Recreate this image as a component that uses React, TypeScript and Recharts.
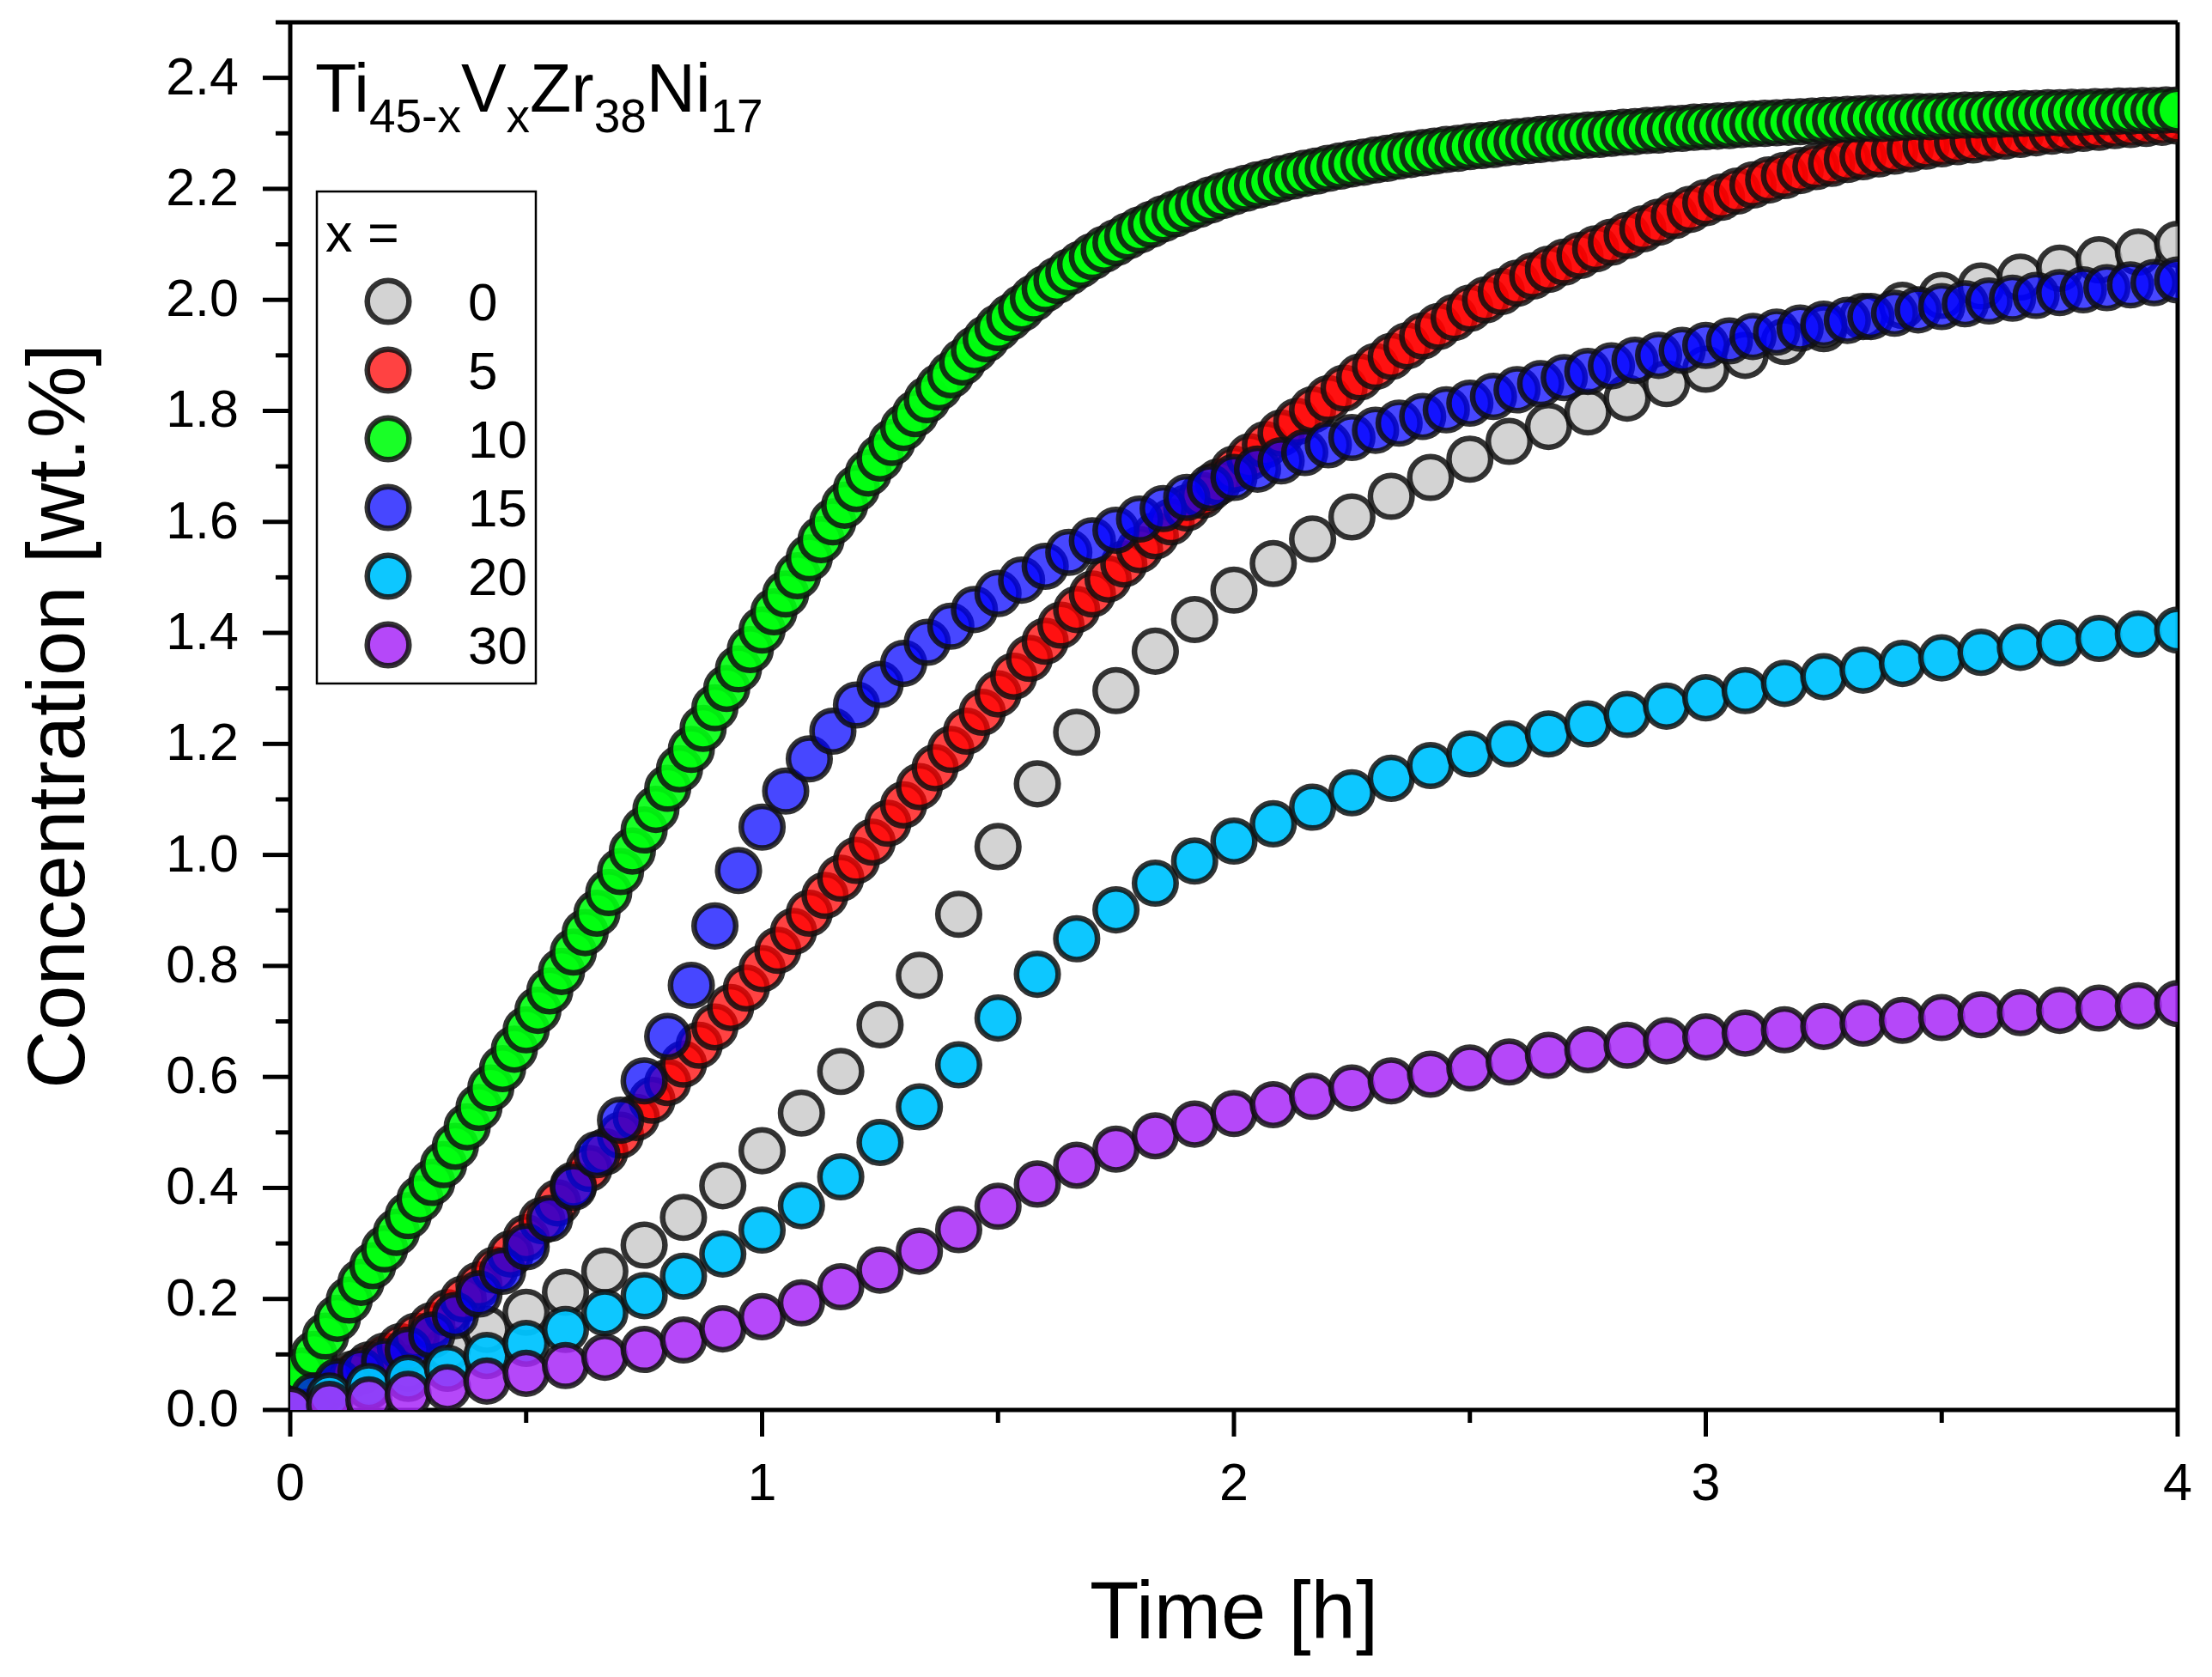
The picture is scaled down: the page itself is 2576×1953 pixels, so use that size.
import { ReferenceLine, Scatter, ScatterChart, XAxis, YAxis } from "recharts";

const FONT = "'Liberation Sans', Arial, sans-serif";
const W = 2576;
const H = 1953;

// sample times in minutes, one list per sampling rate
const T_GREEN_MIN = [
  0, 1.5, 3, 4.5, 6, 7.5, 9, 10.5, 12, 13.5,
  15, 16.5, 18, 19.5, 21, 22.5, 24, 25.5, 27, 28.5,
  30, 31.5, 33, 34.5, 36, 37.5, 39, 40.5, 42, 43.5,
  45, 46.5, 48, 49.5, 51, 52.5, 54, 55.5, 57, 58.5,
  60, 61.5, 63, 64.5, 66, 67.5, 69, 70.5, 72, 73.5,
  75, 76.5, 78, 79.5, 81, 82.5, 84, 85.5, 87, 88.5,
  90, 91.5, 93, 94.5, 96, 97.5, 99, 100.5, 102, 103.5,
  105, 106.5, 108, 109.5, 111, 112.5, 114, 115.5, 117, 118.5,
  120, 121.5, 123, 124.5, 126, 127.5, 129, 130.5, 132, 133.5,
  135, 136.5, 138, 139.5, 141, 142.5, 144, 145.5, 147, 148.5,
  150, 151.5, 153, 154.5, 156, 157.5, 159, 160.5, 162, 163.5,
  165, 166.5, 168, 169.5, 171, 172.5, 174, 175.5, 177, 178.5,
  180, 181.5, 183, 184.5, 186, 187.5, 189, 190.5, 192, 193.5,
  195, 196.5, 198, 199.5, 201, 202.5, 204, 205.5, 207, 208.5,
  210, 211.5, 213, 214.5, 216, 217.5, 219, 220.5, 222, 223.5,
  225, 226.5, 228, 229.5, 231, 232.5, 234, 235.5, 237, 238.5,
  240,
];

const T_RED_MIN = [
  0, 2, 4, 6, 8, 10, 12, 14, 16, 18,
  20, 22, 24, 26, 28, 30, 32, 34, 36, 38,
  40, 42, 44, 46, 48, 50, 52, 54, 56, 58,
  60, 62, 64, 66, 68, 70, 72, 74, 76, 78,
  80, 82, 84, 86, 88, 90, 92, 94, 96, 98,
  100, 102, 104, 106, 108, 110, 112, 114, 116, 118,
  120, 122, 124, 126, 128, 130, 132, 134, 136, 138,
  140, 142, 144, 146, 148, 150, 152, 154, 156, 158,
  160, 162, 164, 166, 168, 170, 172, 174, 176, 178,
  180, 182, 184, 186, 188, 190, 192, 194, 196, 198,
  200, 202, 204, 206, 208, 210, 212, 214, 216, 218,
  220, 222, 224, 226, 228, 230, 232, 234, 236, 238,
  240,
];

const T_BLUE_MIN = [
  0, 3, 6, 9, 12, 15, 18, 21, 24, 27,
  30, 33, 36, 39, 42, 45, 48, 51, 54, 57,
  60, 63, 66, 69, 72, 75, 78, 81, 84, 87,
  90, 93, 96, 99, 102, 105, 108, 111, 114, 117,
  120, 123, 126, 129, 132, 135, 138, 141, 144, 147,
  150, 153, 156, 159, 162, 165, 168, 171, 174, 177,
  180, 183, 186, 189, 192, 195, 198, 201, 204, 207,
  210, 213, 216, 219, 222, 225, 228, 231, 234, 237,
  240,
];

const T_5_MIN = [
  0, 5, 10, 15, 20, 25, 30, 35, 40, 45,
  50, 55, 60, 65, 70, 75, 80, 85, 90, 95,
  100, 105, 110, 115, 120, 125, 130, 135, 140, 145,
  150, 155, 160, 165, 170, 175, 180, 185, 190, 195,
  200, 205, 210, 215, 220, 225, 230, 235, 240,
];

// concentration [wt.%]
const X0 = [
  0, 0.02, 0.045, 0.075, 0.11, 0.145, 0.176, 0.212, 0.25, 0.297,
  0.347, 0.404, 0.467, 0.535, 0.61, 0.694, 0.783, 0.893, 1.015, 1.128,
  1.221, 1.296, 1.367, 1.424, 1.477, 1.525, 1.569, 1.609, 1.646, 1.68,
  1.713, 1.745, 1.772, 1.798, 1.823, 1.849, 1.875, 1.9, 1.925, 1.948,
  1.97, 1.99, 2.008, 2.025, 2.041, 2.057, 2.072, 2.086, 2.1,
];

const X5 = [
  0, 0.017, 0.033, 0.05, 0.065, 0.081, 0.097, 0.114, 0.133, 0.152,
  0.175, 0.2, 0.225, 0.252, 0.281, 0.31, 0.341, 0.373, 0.405, 0.435,
  0.465, 0.495, 0.527, 0.558, 0.59, 0.623, 0.657, 0.69, 0.725, 0.76,
  0.795, 0.828, 0.862, 0.895, 0.927, 0.958, 0.99, 1.023, 1.057, 1.09,
  1.123, 1.157, 1.19, 1.223, 1.257, 1.29, 1.322, 1.354, 1.385, 1.414,
  1.442, 1.47, 1.497, 1.524, 1.55, 1.575, 1.6, 1.625, 1.648, 1.672,
  1.695, 1.717, 1.739, 1.76, 1.781, 1.802, 1.822, 1.841, 1.861, 1.88,
  1.898, 1.917, 1.935, 1.952, 1.968, 1.985, 2.0, 2.015, 2.03, 2.043,
  2.055, 2.068, 2.08, 2.092, 2.104, 2.116, 2.128, 2.14, 2.152, 2.163,
  2.175, 2.185, 2.196, 2.207, 2.216, 2.224, 2.233, 2.24, 2.246, 2.253,
  2.258, 2.263, 2.268, 2.272, 2.277, 2.281, 2.285, 2.288, 2.292, 2.295,
  2.298, 2.301, 2.304, 2.306, 2.309, 2.311, 2.314, 2.316, 2.318, 2.32,
  2.322,
];

const X10 = [
  0.04, 0.07, 0.1, 0.133, 0.165, 0.198, 0.23, 0.26, 0.29, 0.32,
  0.35, 0.38, 0.41, 0.442, 0.475, 0.51, 0.545, 0.58, 0.615, 0.65,
  0.685, 0.72, 0.755, 0.79, 0.825, 0.86, 0.895, 0.932, 0.97, 1.007,
  1.045, 1.082, 1.12, 1.155, 1.19, 1.228, 1.265, 1.3, 1.335, 1.37,
  1.405, 1.438, 1.47, 1.503, 1.535, 1.568, 1.6, 1.63, 1.66, 1.688,
  1.715, 1.743, 1.77, 1.795, 1.82, 1.843, 1.865, 1.888, 1.91, 1.93,
  1.95, 1.968, 1.985, 2.003, 2.02, 2.035, 2.05, 2.064, 2.078, 2.091,
  2.103, 2.115, 2.126, 2.136, 2.146, 2.155, 2.164, 2.172, 2.18, 2.188,
  2.195, 2.201, 2.207, 2.212, 2.218, 2.223, 2.228, 2.232, 2.237, 2.241,
  2.245, 2.248, 2.252, 2.255, 2.259, 2.262, 2.265, 2.268, 2.271, 2.273,
  2.276, 2.278, 2.28, 2.283, 2.285, 2.287, 2.289, 2.291, 2.293, 2.295,
  2.297, 2.298, 2.3, 2.302, 2.303, 2.305, 2.306, 2.308, 2.309, 2.311,
  2.312, 2.313, 2.314, 2.316, 2.317, 2.318, 2.319, 2.32, 2.321, 2.322,
  2.323, 2.324, 2.325, 2.326, 2.327, 2.327, 2.328, 2.329, 2.33, 2.33,
  2.331, 2.332, 2.333, 2.333, 2.334, 2.334, 2.335, 2.336, 2.336, 2.337,
  2.337, 2.338, 2.338, 2.339, 2.339, 2.34, 2.34, 2.341, 2.341, 2.342,
  2.342,
];

const X15 = [
  0, 0.025, 0.051, 0.07, 0.087, 0.108, 0.135, 0.17, 0.209, 0.25,
  0.294, 0.345, 0.401, 0.46, 0.522, 0.593, 0.673, 0.765, 0.872, 0.972,
  1.05, 1.115, 1.173, 1.223, 1.27, 1.307, 1.345, 1.383, 1.412, 1.442,
  1.471, 1.495, 1.52, 1.545, 1.566, 1.585, 1.605, 1.624, 1.644, 1.662,
  1.68, 1.695, 1.71, 1.725, 1.739, 1.752, 1.765, 1.778, 1.79, 1.802,
  1.814, 1.826, 1.838, 1.849, 1.86, 1.871, 1.881, 1.891, 1.9, 1.909,
  1.918, 1.926, 1.934, 1.942, 1.949, 1.956, 1.963, 1.97, 1.976, 1.982,
  1.988, 1.993, 1.998, 2.003, 2.008, 2.013, 2.018, 2.022, 2.027, 2.031,
  2.036,
];

const X20 = [
  0, 0.025, 0.042, 0.057, 0.075, 0.098, 0.12, 0.145, 0.175, 0.206,
  0.241, 0.281, 0.324, 0.368, 0.42, 0.482, 0.546, 0.622, 0.706, 0.785,
  0.849, 0.901, 0.949, 0.989, 1.025, 1.056, 1.086, 1.112, 1.138, 1.161,
  1.182, 1.2, 1.218, 1.236, 1.253, 1.268, 1.283, 1.296, 1.309, 1.321,
  1.333, 1.345, 1.355, 1.365, 1.374, 1.382, 1.39, 1.398, 1.405,
];

const X30 = [
  0, 0.01, 0.018, 0.028, 0.04, 0.052, 0.066, 0.08, 0.095, 0.109,
  0.126, 0.146, 0.168, 0.193, 0.222, 0.252, 0.286, 0.325, 0.367, 0.407,
  0.441, 0.47, 0.494, 0.515, 0.534, 0.55, 0.565, 0.58, 0.593, 0.605,
  0.616, 0.627, 0.639, 0.649, 0.657, 0.665, 0.672, 0.679, 0.685, 0.691,
  0.697, 0.702, 0.707, 0.712, 0.716, 0.72, 0.724, 0.728, 0.732,
];

const X_TICKS = [0, 0.5, 1, 1.5, 2, 2.5, 3, 3.5, 4];
const Y_TICKS = [
  0, 0.1, 0.2, 0.3, 0.4, 0.5, 0.6, 0.7, 0.8, 0.9, 1, 1.1, 1.2,
  1.3, 1.4, 1.5, 1.6, 1.7, 1.8, 1.9, 2, 2.1, 2.2, 2.3, 2.4, 2.5,
];

const LEGEND_LABELS = ["0", "5", "10", "15", "20", "30"];

const toPoints = (times: number[], values: number[]) =>
  times.map((m, i) => ({ t: m / 60, c: values[i] }));

const SERIES = [
  { name: "0", data: toPoints(T_5_MIN, X0), fill: "#c8c8c8", opacity: 0.8 },
  { name: "5", data: toPoints(T_RED_MIN, X5), fill: "#ff0000", opacity: 0.74 },
  { name: "10", data: toPoints(T_GREEN_MIN, X10), fill: "#00ff10", opacity: 0.9 },
  { name: "15", data: toPoints(T_BLUE_MIN, X15), fill: "#0000ff", opacity: 0.72 },
  { name: "20", data: toPoints(T_5_MIN, X20), fill: "#00c4ff", opacity: 0.95 },
  { name: "30", data: toPoints(T_5_MIN, X30), fill: "#a828f8", opacity: 0.85 },
];

const R = 24.3;
const EDGE = { stroke: "#111", strokeOpacity: 0.85, strokeWidth: 6.5 };

function marker(fill: string, opacity: number) {
  return (p: any) => (
    <circle cx={p.cx} cy={p.cy} r={R} fill={fill} fillOpacity={opacity} {...EDGE} />
  );
}

function YTick({ x, y, payload }: any) {
  const v = payload.value;
  const major = Math.round(v * 10) % 2 === 0;
  return (
    <g>
      <line x1={x} x2={x - (major ? 32 : 17)} y1={y} y2={y} stroke="#000" strokeWidth={5} />
      {major && v < 2.45 && (
        <text x={x - 60} y={y + 19} textAnchor="end" fontSize={61} fontFamily={FONT} fill="#000">
          {v.toFixed(1)}
        </text>
      )}
    </g>
  );
}

function XTick({ x, y, payload }: any) {
  const v = payload.value;
  const major = Number.isInteger(v);
  return (
    <g>
      <line x1={x} x2={x} y1={y} y2={y + (major ? 31 : 15)} stroke="#000" strokeWidth={5} />
      {major && (
        <text x={x} y={y + 105} textAnchor="middle" fontSize={61} fontFamily={FONT} fill="#000">
          {v}
        </text>
      )}
    </g>
  );
}

function Overlay() {
  return (
    <svg
      width={W}
      height={H}
      style={{ position: "absolute", left: 0, top: 0, pointerEvents: "none" }}
      fontFamily={FONT}
    >
      <text x={98} y={834} transform="rotate(-90 98 834)" textAnchor="middle" fontSize={94}>
        Concentration [wt.%]
      </text>
      <text x={1437} y={1908} textAnchor="middle" fontSize={94}>
        Time [h]
      </text>

      <text x={367} y={130} fontSize={79}>
        Ti
        <tspan fontSize={55} dy={24}>45-x</tspan>
        <tspan dy={-24}>V</tspan>
        <tspan fontSize={55} dy={24}>x</tspan>
        <tspan dy={-24}>Zr</tspan>
        <tspan fontSize={55} dy={24}>38</tspan>
        <tspan dy={-24}>Ni</tspan>
        <tspan fontSize={55} dy={24}>17</tspan>
      </text>

      <rect x={369} y={223} width={255} height={573} fill="#fff" stroke="#000" strokeWidth={2.5} />
      <text x={379} y={293} fontSize={63}>
        x =
      </text>
      {SERIES.map((s, i) => (
        <g key={s.name}>
          <circle cx={452} cy={351 + i * 80} r={R} fill={s.fill} fillOpacity={s.opacity} {...EDGE} />
          <text x={545} y={351 + i * 80 + 22} fontSize={62}>
            {LEGEND_LABELS[i]}
          </text>
        </g>
      ))}
    </svg>
  );
}

export default function App() {
  return (
    <div style={{ position: "absolute", left: 0, top: 0, width: W, height: H, background: "#fff" }}>
      <ScatterChart width={W} height={H} margin={{ top: 26, right: 40, bottom: 0, left: 0 }}>
        <XAxis
          type="number"
          dataKey="t"
          domain={[0, 4]}
          ticks={X_TICKS}
          interval={0}
          allowDataOverflow
          height={311}
          tickSize={0}
          tickMargin={0}
          tickLine={false}
          axisLine={{ stroke: "#000", strokeWidth: 5 }}
          tick={(p: any) => <XTick {...p} />}
        />
        <YAxis
          type="number"
          dataKey="c"
          domain={[0, 2.5]}
          ticks={Y_TICKS}
          interval={0}
          allowDataOverflow
          width={338}
          tickSize={0}
          tickMargin={0}
          tickLine={false}
          axisLine={{ stroke: "#000", strokeWidth: 5 }}
          tick={(p: any) => <YTick {...p} />}
        />
        {SERIES.map((s) => (
          <Scatter
            key={s.name}
            name={s.name}
            data={s.data}
            shape={marker(s.fill, s.opacity)}
            isAnimationActive={false}
          />
        ))}
        <ReferenceLine y={2.5} stroke="#000" strokeWidth={5} />
        <ReferenceLine x={4} stroke="#000" strokeWidth={5} />
      </ScatterChart>
      <Overlay />
    </div>
  );
}
